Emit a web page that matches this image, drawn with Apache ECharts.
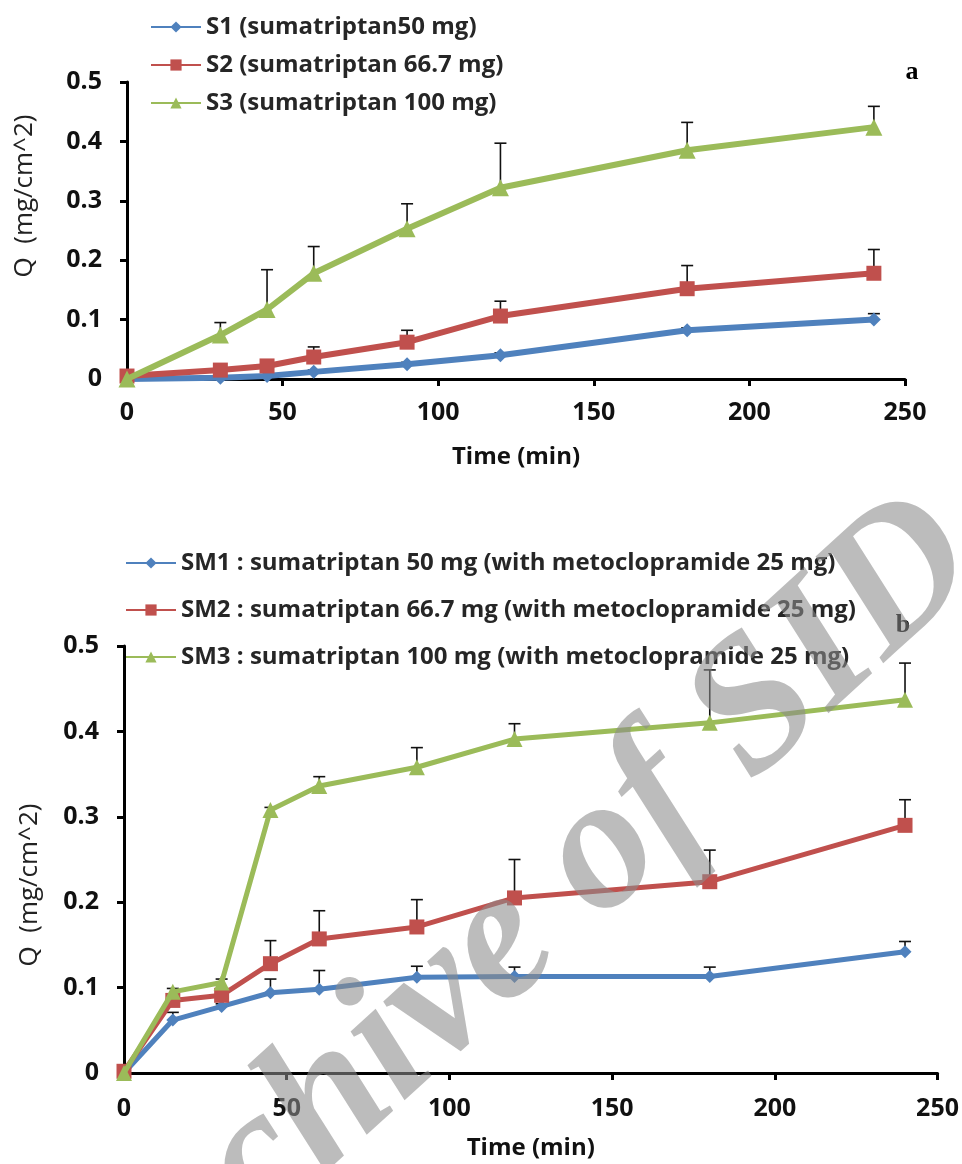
<!DOCTYPE html>
<html>
<head>
<meta charset="utf-8">
<script src="https://cdn.jsdelivr.net/npm/echarts@6/dist/echarts.min.js"></script>
<style>
html,body{margin:0;padding:0;background:#fff;}
#c{width:962px;height:1164px;}
</style>
</head>
<body>
<div id="c"></div>
<script>
// ---- Panel a ----
const timesA = [0, 30, 45, 60, 90, 120, 180, 240];
const namesA = ['S1 (sumatriptan50 mg)', 'S2 (sumatriptan 66.7 mg)', 'S3 (sumatriptan 100 mg)'];
const s1 = [0, 0.002, 0.005, 0.012, 0.025, 0.040, 0.082, 0.100];
const s1Err = [0, 0, 0, 0.003, 0.003, 0.004, 0.004, 0.010];
const s2 = [0.005, 0.015, 0.022, 0.037, 0.062, 0.106, 0.152, 0.178];
const s2Err = [0, 0.004, 0.003, 0.017, 0.020, 0.025, 0.039, 0.040];
const s3 = [0, 0.074, 0.117, 0.178, 0.253, 0.322, 0.385, 0.424];
const s3Err = [0, 0.021, 0.067, 0.045, 0.042, 0.075, 0.047, 0.035];

// ---- Panel b ----
const timesB = [0, 15, 30, 45, 60, 90, 120, 180, 240];
const namesB = ['SM1 : sumatriptan 50 mg (with metoclopramide 25 mg)', 'SM2 : sumatriptan 66.7 mg (with metoclopramide 25 mg)', 'SM3 : sumatriptan 100 mg (with metoclopramide 25 mg)'];
const sm1 = [0, 0.062, 0.078, 0.094, 0.098, 0.112, 0.113, 0.113, 0.142];
const sm1Err = [0, 0.009, 0.003, 0.016, 0.022, 0.013, 0.011, 0.011, 0.012];
const sm2 = [0.002, 0.085, 0.091, 0.128, 0.157, 0.171, 0.205, 0.224, 0.290];
const sm2Err = [0, 0.004, 0.003, 0.027, 0.033, 0.032, 0.045, 0.037, 0.030];
const sm3 = [0, 0.095, 0.106, 0.308, 0.336, 0.358, 0.391, 0.410, 0.437];
const sm3Err = [0, 0.004, 0.004, 0.003, 0.011, 0.023, 0.018, 0.062, 0.043];

const yTicks = [0, 0.1, 0.2, 0.3, 0.4, 0.5];
const xTicks = [0, 50, 100, 150, 200, 250];
const yTitle = 'Q  (mg/cm^2)';
const xTitle = 'Time (min)';
const panelLabels = ['a', 'b'];
const watermark = 'Archive of SID';

const colors = ['#4F81BD', '#C0504D', '#9BBB59'];
const symbols = ['diamond', 'rect', 'triangle'];

const chart = echarts.init(document.getElementById('c'));

function lineSeries(name, times, vals, idx, axis, lw, sizes) {
  return {
    name: name, type: 'line', xAxisIndex: axis, yAxisIndex: axis,
    data: times.map((t, i) => [t, vals[i]]),
    symbol: symbols[idx], symbolSize: sizes[idx],
    lineStyle: { color: colors[idx], width: lw },
    itemStyle: { color: colors[idx] },
    z: 3 + idx, animation: false
  };
}
function errSeries(times, vals, errs, axis) {
  return {
    type: 'custom', xAxisIndex: axis, yAxisIndex: axis, silent: true, z: 2,
    data: times.map((t, i) => [t, vals[i], vals[i] + errs[i]]),
    renderItem: function (params, api) {
      const b = api.coord([api.value(0), api.value(1)]);
      const tp = api.coord([api.value(0), api.value(2)]);
      if (Math.abs(b[1] - tp[1]) < 1) return { type: 'group', children: [] };
      return {
        type: 'group', children: [
          { type: 'line', shape: { x1: b[0], y1: b[1], x2: b[0], y2: tp[1] }, style: { stroke: '#111', lineWidth: 1.6 } },
          { type: 'line', shape: { x1: b[0] - 6, y1: tp[1], x2: b[0] + 6, y2: tp[1] }, style: { stroke: '#111', lineWidth: 1.6 } }
        ]
      };
    },
    animation: false
  };
}

const FF = '"Open Sans", sans-serif';
function xAxis(grid, gap, margin) {
  return {
    type: 'value', gridIndex: grid, min: xTicks[0], max: xTicks[xTicks.length - 1], interval: xTicks[1] - xTicks[0],
    name: xTitle, nameLocation: 'middle', nameGap: gap,
    nameTextStyle: { fontFamily: FF, fontWeight: 'bold', fontSize: 24, color: '#111' },
    axisLine: { show: true, onZero: false, lineStyle: { color: '#000', width: 3 } },
    axisTick: { show: true, length: 7, lineStyle: { color: '#000', width: 3 } },
    axisLabel: { fontFamily: FF, fontWeight: 'bold', fontSize: 25, color: '#111', margin: margin },
    splitLine: { show: false }
  };
}
function yAxis(grid) {
  return {
    type: 'value', gridIndex: grid, min: yTicks[0], max: yTicks[yTicks.length - 1], interval: 0.1,
    axisLine: { show: true, onZero: false, lineStyle: { color: '#000', width: 3 } },
    axisTick: { show: true, length: 7, lineStyle: { color: '#000', width: 3 } },
    axisLabel: { fontFamily: FF, fontWeight: 'bold', fontSize: 25, color: '#111', margin: 25,
      formatter: v => String(Math.round(v * 10) / 10) },
    splitLine: { show: false }
  };
}

const legendText = { fontFamily: FF, fontWeight: 'bold', fontSize: 24, color: '#262626', lineHeight: 26 };

const option = {
  backgroundColor: '#fff',
  animation: false,
  grid: [
    { left: 127, top: 82, right: 57, bottom: 785 },
    { left: 124, top: 646, right: 23, bottom: 91 }
  ],
  xAxis: [xAxis(0, 66, 21), xAxis(1, 63, 23)],
  yAxis: [yAxis(0), yAxis(1)],
  legend: [
    { data: namesA, orient: 'vertical', left: 150, top: 14, padding: 0, itemWidth: 50, itemHeight: 14, itemGap: 12, textStyle: legendText },
    { data: namesB, orient: 'vertical', left: 125, top: 550, padding: 0, itemWidth: 50, itemHeight: 14, itemGap: 21, textStyle: legendText }
  ],
  series: [
    errSeries(timesA, s1, s1Err, 0), errSeries(timesA, s2, s2Err, 0), errSeries(timesA, s3, s3Err, 0),
    lineSeries(namesA[0], timesA, s1, 0, 0, 6, [14, 15, 17]),
    lineSeries(namesA[1], timesA, s2, 1, 0, 6, [14, 15, 17]),
    lineSeries(namesA[2], timesA, s3, 2, 0, 6, [14, 15, 17]),
    errSeries(timesB, sm1, sm1Err, 1), errSeries(timesB, sm2, sm2Err, 1), errSeries(timesB, sm3, sm3Err, 1),
    lineSeries(namesB[0], timesB, sm1, 0, 1, 5, [13, 15, 16]),
    lineSeries(namesB[1], timesB, sm2, 1, 1, 5, [13, 15, 16]),
    lineSeries(namesB[2], timesB, sm3, 2, 1, 5, [13, 15, 16])
  ],
  graphic: [
    { type: 'text', x: 25, y: 196, rotation: Math.PI / 2,
      style: { text: yTitle, font: '26px "Open Sans", sans-serif', fill: '#222', align: 'center', verticalAlign: 'middle' } },
    { type: 'text', x: 30, y: 885, rotation: Math.PI / 2,
      style: { text: yTitle, font: '26px "Open Sans", sans-serif', fill: '#222', align: 'center', verticalAlign: 'middle' } },
    { type: 'text', x: 912, y: 72,
      style: { text: panelLabels[0], font: 'bold 26px "Liberation Serif", serif', fill: '#000', align: 'center', verticalAlign: 'middle' } },
    { type: 'text', x: 903, y: 625,
      style: { text: panelLabels[1], font: 'bold 26px "Liberation Serif", serif', fill: '#000', align: 'center', verticalAlign: 'middle' } },
    { type: 'text', x: 516, y: 932, rotation: 0.74, z: 100, silent: true,
      style: { text: watermark, font: 'italic bold 190px "Liberation Serif", serif', fill: 'rgba(140,140,140,0.58)', align: 'center', verticalAlign: 'middle' } }
  ]
};
chart.setOption(option);
</script>
</body>
</html>
